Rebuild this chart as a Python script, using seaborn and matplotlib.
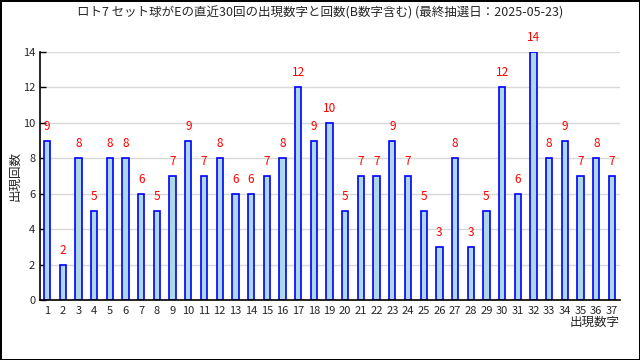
import pandas as pd
import numpy as np
import matplotlib.pyplot as plt
import seaborn as sns

sns.set_theme(style="white")
plt.rcParams['font.family'] = ['Noto Sans CJK JP', 'DejaVu Sans']

# data
numbers = [str(n) for n in range(1, 38)]
counts = [9, 2, 8, 5, 8, 8, 6, 5, 7, 9, 7, 8, 6, 6, 7, 8, 12, 9, 10, 5,
          7, 7, 9, 7, 5, 3, 8, 3, 5, 12, 6, 14, 8, 9, 7, 8, 7]
title = "ロト7 セット球がEの直近30回の出現数字と回数(B数字含む) (最終抽選日：2025-05-23)"

df = pd.DataFrame({"num": numbers, "count": counts})

fig = plt.figure(figsize=(6.4, 3.6), dpi=100)
fig.patch.set_edgecolor("black")
fig.patch.set_linewidth(2)
ax = fig.add_axes([0.0625, 0.1667, 0.906, 0.689])

sns.barplot(data=df, x="num", y="count", ax=ax, width=0.4,
            color="lightblue", edgecolor="blue", linewidth=1.2, saturation=1)

for i, c in enumerate(counts):
    ax.text(i, c + 0.45, str(c), color="red", ha="center", va="bottom",
            fontsize=8.5)

ax.set_ylim(0, 14)
ax.set_xlim(-0.45, 36.5)
ax.set_yticks(range(0, 15, 2))
ax.yaxis.grid(True, color="#d9d9d9", linewidth=1)
ax.set_axisbelow(True)
ax.set_xticks(np.arange(0.5, 36.5, 1), minor=True)
ax.tick_params(axis="x", which="major", length=0, labelsize=8, pad=4)
ax.tick_params(axis="x", which="minor", direction="in", length=4, color="black", width=1)
ax.tick_params(axis="y", direction="in", length=4, color="black", width=1, labelsize=8, left=True)
for s in ["top", "right"]:
    ax.spines[s].set_visible(False)
for s in ["left", "bottom"]:
    ax.spines[s].set_color("black")
    ax.spines[s].set_linewidth(1.2)

ax.set_ylabel("出現回数", fontsize=9, labelpad=1)
ax.set_xlabel("出現数字", fontsize=9, loc="right", labelpad=0)
fig.text(0.5, 0.965, title, ha="center", va="center", fontsize=9)

fig.savefig("out.png", dpi=100, edgecolor=fig.get_edgecolor())
